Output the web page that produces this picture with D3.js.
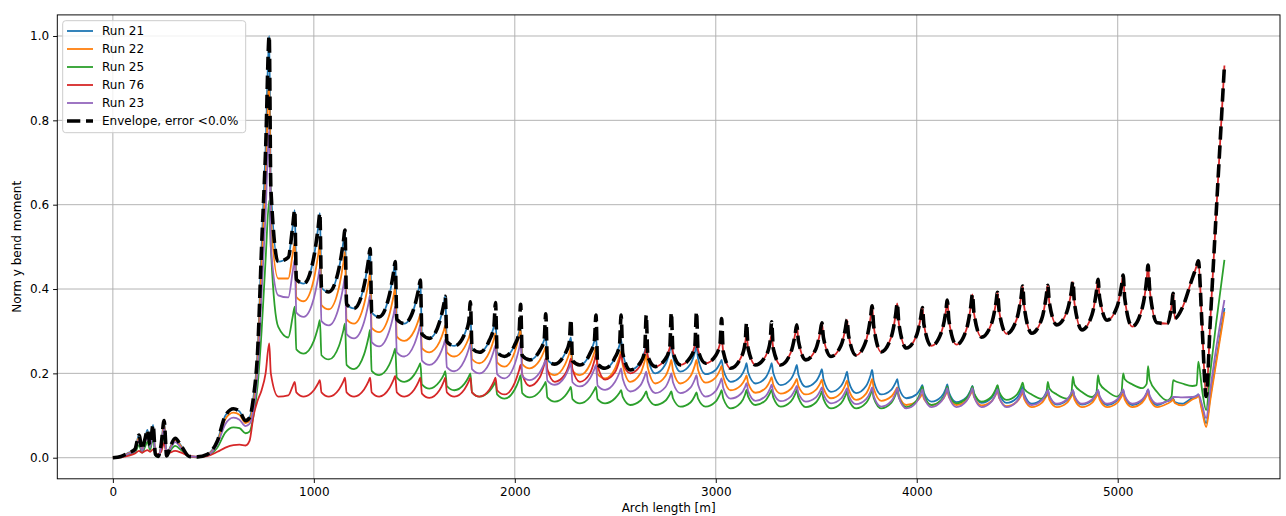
<!DOCTYPE html>
<html><head><meta charset="utf-8">
<script src="https://cdn.jsdelivr.net/npm/d3@7"></script>
<style>body{margin:0;background:#fff} text{font-family:"DejaVu Sans",sans-serif;}</style>
</head><body><svg id="chart" width="1286" height="516"></svg>
<script>
// Arch length positions [m]
const xs = [
  0,40,80,110,130,145,160,172,185,200,212,225,240,255,268,285,310,340,380,420,470,520,560,600,630,660,680,700,720,740,760,
  778,786,823,873,895, 905,913,950,1000,1022, 1030,1038,1075,1125,1147, 1155,1163,1200,1250,1272,
  1280,1288,1325,1375,1397, 1405,1413,1450,1500,1522, 1530,1538,1575,1625,1647, 1654,1662,1699,1749,1771,
  1779,1787,1824,1874,1896, 1904,1912,1949,1999,2021, 2029,2037,2074,2124,2146, 2154,2162,2199,2249,2271,
  2279,2287,2324,2374,2396, 2404,2412,2449,2499,2521, 2529,2537,2574,2624,2646, 2654,2662,2699,2749,2771,
  2779,2787,2824,2874,2896, 2904,2912,2949,2999,3021, 3029,3037,3074,3124,3146, 3153,3161,3198,3248,3270,
  3278,3286,3323,3373,3395, 3403,3411,3448,3498,3520, 3528,3536,3573,3623,3645, 3653,3661,3698,3748,3770,
  3778,3786,3823,3873,3895, 3903,3911,3948,3998,4020, 4028,4036,4073,4123,4145, 4152,4160,4197,4247,4269,
  4277,4285,4322,4372,4394, 4402,4410,4447,4497,4519, 4527,4535,4572,4622,4644, 4652,4660,4697,4747,4769,
  4777,4785,4822,4872,4894, 4902,4910,4947,4997,5019, 5027,5035,5072,5122,5144, 5151,5159,5196,5246,5268,
  5276,5284,5321,5371,5393,
  5401,5420,5440,5460,5490,5531
];
const run21 = [
  0,.003,.012,.02,.054,.02,.045,.066,.03,.078,.008,.003,.03,.088,.004,.025,.046,.028,.003,.002,.008,.04,.1,.116,.11,.088,.095,.145,.25,.5,.73,
  1.0,.64,.465,.475,.55, .587,.423,.413,.476,.548, .58,.403,.393,.449,.512, .54,.364,.354,.408,.469,
  .496,.344,.334,.384,.44, .465,.328,.318,.357,.401, .421,.293,.283,.321,.364, .383,.275,.265,.292,.322,
  .335,.26,.25,.279,.311, .325,.25,.24,.267,.297, .31,.242,.232,.254,.279, .29,.232,.222,.246,.273,
  .285,.23,.22,.247,.277, .29,.222,.212,.238,.267, .28,.248,.208,.225,.251, .265,.236,.2,.221,.253,
  .27,.24,.204,.222,.25, .265,.235,.198,.208,.224, .232,.209,.18,.193,.213, .224,.202,.176,.19,.212,
  .224,.201,.172,.186,.208, .22,.197,.168,.181,.2, .21,.186,.156,.17,.192, .204,.181,.153,.17,.195,
  .208,.182,.15,.161,.178, .186,.166,.141,.15,.165, .172,.154,.133,.145,.164, .174,.155,.132,.143,.161,
  .17,.152,.13,.142,.16, .17,.152,.13,.141,.159, .168,.15,.128,.138,.154, .162,.146,.126,.136,.152,
  .16,.145,.126,.136,.152, .16,.144,.125,.136,.152, .16,.144,.125,.136,.153, .162,.145,.125,.134,.137,
  .14,.132,.128,.142,.147,
  .15,.115,.082,.142,.232,.355
];
const run22 = [
  0,.003,.011,.018,.048,.018,.04,.06,.027,.07,.007,.003,.027,.08,.004,.022,.042,.026,.003,.002,.007,.036,.092,.107,.102,.082,.088,.13,.23,.46,.66,
  .9,.57,.425,.425,.484, .51,.381,.371,.423,.482, .508,.362,.352,.404,.462, .488,.328,.318,.364,.416,
  .44,.308,.298,.338,.384, .404,.287,.277,.301,.328, .34,.26,.25,.274,.302, .314,.25,.24,.261,.284,
  .295,.234,.224,.251,.281, .295,.226,.216,.25,.288, .305,.222,.212,.231,.253, .263,.206,.196,.22,.247,
  .259,.206,.196,.221,.25, .263,.198,.188,.212,.24, .252,.22,.18,.199,.229, .244,.213,.176,.193,.219,
  .232,.207,.176,.193,.219, .232,.208,.178,.19,.208, .218,.192,.16,.171,.187, .195,.177,.154,.165,.182,
  .191,.173,.152,.163,.179, .187,.17,.15,.161,.177, .185,.165,.141,.154,.173, .183,.162,.137,.152,.175,
  .187,.164,.135,.145,.16, .167,.148,.125,.133,.145, .151,.139,.125,.135,.151, .159,.144,.125,.136,.152,
  .16,.144,.124,.134,.15, .158,.142,.122,.132,.147, .155,.139,.12,.13,.145, .152,.138,.12,.13,.145,
  .152,.138,.12,.13,.145, .152,.138,.12,.13,.145, .152,.138,.12,.131,.147, .155,.139,.12,.128,.134,
  .138,.13,.124,.138,.143,
  .146,.11,.073,.135,.225,.346
];
const run25 = [
  0,.002,.007,.012,.03,.012,.026,.038,.018,.045,.005,.002,.018,.055,.003,.016,.028,.018,.002,.001,.005,.024,.06,.072,.07,.058,.062,.1,.17,.3,.47,
  .61,.5,.31,.285,.335, .358,.257,.247,.277,.311, .326,.243,.233,.265,.302, .318,.22,.21,.245,.285,
  .303,.206,.196,.22,.247, .259,.19,.18,.197,.216, .224,.174,.164,.18,.197, .205,.17,.16,.175,.192,
  .2,.155,.145,.158,.173, .18,.15,.14,.161,.185, .196,.153,.143,.157,.173, .18,.143,.133,.146,.161,
  .168,.139,.129,.144,.161, .168,.139,.129,.141,.154, .16,.144,.125,.135,.15, .157,.143,.125,.135,.15,
  .157,.141,.121,.131,.147, .155,.14,.121,.133,.151, .16,.141,.117,.13,.15, .161,.145,.125,.136,.153,
  .161,.143,.121,.133,.151, .161,.143,.12,.131,.148, .157,.139,.117,.129,.147, .157,.139,.117,.13,.15,
  .161,.141,.117,.13,.15, .161,.143,.12,.135,.157, .169,.149,.125,.138,.158, .169,.151,.129,.141,.159,
  .169,.153,.133,.145,.163, .172,.156,.137,.149,.168, .178,.163,.15,.14,.148, .18,.164,.15,.14,.15,
  .192,.173,.156,.144,.154, .196,.176,.158,.145,.156, .2,.186,.174,.165,.175, .217,.185,.156,.136,.146,
  .184,.182,.176,.17,.172,
  .228,.16,.113,.2,.32,.469
];
const run76 = [
  0,.001,.005,.01,.016,.012,.016,.018,.014,.02,.01,.008,.014,.035,.008,.012,.016,.012,.004,.002,.004,.014,.024,.03,.031,.029,.04,.1,.135,.16,.2,
  .271,.2,.145,.148,.17, .18,.155,.145,.16,.177, .184,.155,.145,.162,.181, .19,.155,.145,.162,.181,
  .19,.155,.145,.164,.185, .194,.155,.145,.162,.181, .19,.152,.142,.16,.181, .19,.155,.145,.162,.181,
  .19,.155,.145,.162,.181, .19,.16,.15,.177,.207, .22,.198,.17,.19,.22, .235,.21,.18,.197,.222,
  .235,.21,.18,.2,.23, .245,.218,.185,.203,.231, .245,.225,.2,.218,.246, .26,.24,.216,.234,.261,
  .275,.25,.22,.238,.266, .28,.255,.224,.242,.27, .285,.252,.212,.236,.272, .291,.259,.22,.241,.274,
  .291,.259,.22,.249,.293, .315,.278,.232,.258,.299, .32,.284,.24,.266,.306, .327,.289,.243,.278,.332,
  .36,.311,.251,.286,.339, .366,.318,.26,.289,.333, .356,.315,.265,.298,.348, .374,.326,.268,.304,.359,
  .387,.342,.286,.318,.367, .392,.348,.294,.328,.38, .407,.357,.295,.329,.382, .409,.367,.315,.346,.393,
  .417,.366,.303,.339,.394, .423,.379,.326,.358,.408, .433,.378,.311,.355,.422, .457,.4,.32,.318,.36,
  .39,.33,.355,.425,.455,
  .467,.31,.145,.318,.58,.93
];
const run23 = [
  0,.002,.01,.016,.042,.016,.036,.052,.024,.062,.006,.003,.024,.072,.004,.02,.037,.023,.003,.002,.006,.032,.08,.095,.09,.075,.08,.115,.2,.39,.58,
  .78,.5,.385,.38,.442, .47,.344,.334,.378,.428, .45,.324,.314,.358,.407, .429,.293,.283,.322,.366,
  .386,.274,.264,.3,.34, .358,.25,.24,.269,.301, .315,.23,.22,.243,.269, .28,.215,.205,.23,.258,
  .271,.21,.2,.225,.254, .267,.198,.188,.221,.258, .275,.194,.184,.202,.223, .232,.183,.173,.192,.214,
  .224,.179,.169,.188,.21, .22,.171,.161,.18,.202, .212,.187,.157,.171,.193, .204,.181,.153,.167,.189,
  .2,.179,.153,.166,.186, .196,.173,.145,.158,.178, .188,.166,.14,.151,.168, .177,.158,.135,.146,.164,
  .173,.155,.134,.145,.162, .17,.153,.133,.143,.159, .167,.15,.129,.14,.157, .165,.148,.127,.139,.157,
  .167,.146,.121,.134,.154, .165,.143,.117,.131,.151, .162,.143,.12,.134,.154, .165,.145,.12,.134,.154,
  .165,.145,.12,.133,.152, .162,.143,.12,.133,.152, .162,.145,.125,.136,.152, .16,.146,.128,.138,.153,
  .16,.146,.128,.138,.153, .16,.146,.128,.138,.154, .162,.147,.128,.138,.154, .162,.147,.128,.134,.14,
  .144,.144,.143,.144,.146,
  .15,.125,.094,.16,.26,.374
];
const envelope = [
  0,.003,.012,.02,.054,.02,.045,.066,.03,.078,.008,.003,.03,.088,.004,.025,.046,.028,.003,.002,.008,.04,.1,.116,.11,.088,.095,.145,.25,.5,.73,
  1.0,.64,.465,.475,.55, .587,.423,.413,.476,.548, .58,.403,.393,.449,.512, .54,.364,.354,.408,.469,
  .496,.344,.334,.384,.44, .465,.328,.318,.357,.401, .421,.293,.283,.321,.364, .383,.275,.265,.292,.322,
  .37,.26,.25,.279,.311, .368,.25,.24,.267,.297, .364,.242,.232,.254,.279, .341,.232,.222,.246,.273,
  .328,.23,.22,.247,.277, .338,.222,.212,.238,.267, .338,.248,.208,.225,.251, .338,.24,.216,.234,.261,
  .344,.25,.22,.238,.266, .346,.255,.224,.242,.27, .33,.252,.212,.236,.272, .32,.259,.22,.241,.274,
  .322,.259,.22,.249,.293, .315,.278,.232,.258,.299, .32,.284,.24,.266,.306, .327,.289,.243,.278,.332,
  .36,.311,.251,.286,.339, .366,.318,.26,.289,.333, .356,.315,.265,.298,.348, .374,.326,.268,.304,.359,
  .387,.342,.286,.318,.367, .392,.348,.294,.328,.38, .407,.357,.295,.329,.382, .409,.367,.315,.346,.393,
  .417,.366,.303,.339,.394, .423,.379,.326,.358,.408, .433,.378,.311,.355,.422, .457,.4,.32,.318,.36,
  .39,.33,.355,.425,.455,
  .467,.31,.145,.318,.58,.93
];
const seriesNames = ["Run 21","Run 22","Run 25","Run 76","Run 23","Envelope, error <0.0%"];
const seriesColors = ["#1f77b4","#ff7f0e","#2ca02c","#d62728","#9467bd","#000000"];
const xTicks = [0,1000,2000,3000,4000,5000];
const yTicks = [0.0,0.2,0.4,0.6,0.8,1.0];

const W=1286,H=516;
const L=57.3,R=1280,T=14.9,B=478.8;
const x = d3.scaleLinear().domain([-276.5,5807.5]).range([L,R]);
const y = d3.scaleLinear().domain([-0.05,1.05]).range([B,T]);
const svg = d3.select('#chart');
svg.append('rect').attr('width',W).attr('height',H).attr('fill','#fff');

svg.append('defs').append('clipPath').attr('id','clip')
  .append('rect').attr('x',L).attr('y',T).attr('width',R-L).attr('height',B-T);

const grid = svg.append('g');
grid.selectAll('line.gx').data(xTicks).join('line').attr('class','gx')
  .attr('x1',d=>x(d)).attr('x2',d=>x(d)).attr('y1',T).attr('y2',B)
  .attr('stroke','#b0b0b0').attr('stroke-width',0.95);
grid.selectAll('line.gy').data(yTicks).join('line').attr('class','gy')
  .attr('y1',d=>y(d)).attr('y2',d=>y(d)).attr('x1',L).attr('x2',R)
  .attr('stroke','#b0b0b0').attr('stroke-width',0.95);

const allSeries = [run21, run22, run25, run76, run23];
const line = d3.line().x((d,i)=>x(xs[i])).y(d=>y(d)).curve(d3.curveMonotoneX);
const plot = svg.append('g').attr('clip-path','url(#clip)');
allSeries.forEach((s,k)=>{
  plot.append('path').datum(s).attr('d',line).attr('fill','none')
    .attr('stroke',seriesColors[k]).attr('stroke-width',1.8)
    .attr('stroke-linejoin','round');
});
plot.append('path').datum(envelope).attr('d',line).attr('fill','none')
  .attr('stroke','#000').attr('stroke-width',3.6)
  .attr('stroke-dasharray','13.3,5.7').attr('stroke-linejoin','round');

svg.append('rect').attr('x',L).attr('y',T).attr('width',R-L).attr('height',B-T)
  .attr('fill','none').attr('stroke','#000').attr('stroke-width',0.95);

const xa = svg.append('g').attr('transform',`translate(0,${B})`)
  .call(d3.axisBottom(x).tickValues(xTicks).tickSize(4.2).tickPadding(4).tickFormat(d3.format('d')));
const ya = svg.append('g').attr('transform',`translate(${L},0)`)
  .call(d3.axisLeft(y).tickValues(yTicks).tickSize(4.2).tickPadding(4).tickFormat(d3.format('.1f')));
[xa,ya].forEach(a=>{
  a.select('.domain').remove();
  a.selectAll('text').attr('font-size',12).attr('font-family','DejaVu Sans, sans-serif').attr('fill','#000');
  a.selectAll('line').attr('stroke','#000').attr('stroke-width',0.95);
});

svg.append('text').attr('x',(L+R)/2).attr('y',512).attr('text-anchor','middle')
  .attr('font-size',12).attr('fill','#000').text('Arch length [m]');
svg.append('text').attr('transform',`translate(21,${(T+B)/2}) rotate(-90)`)
  .attr('text-anchor','middle').attr('font-size',12).attr('fill','#000').text('Norm y bend moment');

// legend
const lg = svg.append('g');
lg.append('rect').attr('x',62.7).attr('y',20.7).attr('width',183).attr('height',112).attr('rx',3)
  .attr('fill','#fff').attr('fill-opacity',0.8).attr('stroke','#cccccc').attr('stroke-width',1);
seriesNames.forEach((n,i)=>{
  const yy = 31 + i*18;
  const isEnv = i===5;
  lg.append('line').attr('x1',67).attr('x2',93).attr('y1',yy).attr('y2',yy)
    .attr('stroke',seriesColors[i]).attr('stroke-width',isEnv?3.6:1.8)
    .attr('stroke-dasharray',isEnv?'13.3,5.7':null);
  lg.append('text').attr('x',102).attr('y',yy).attr('dy','0.35em')
    .attr('font-size',12).attr('fill','#000').text(n);
});
</script></body></html>
